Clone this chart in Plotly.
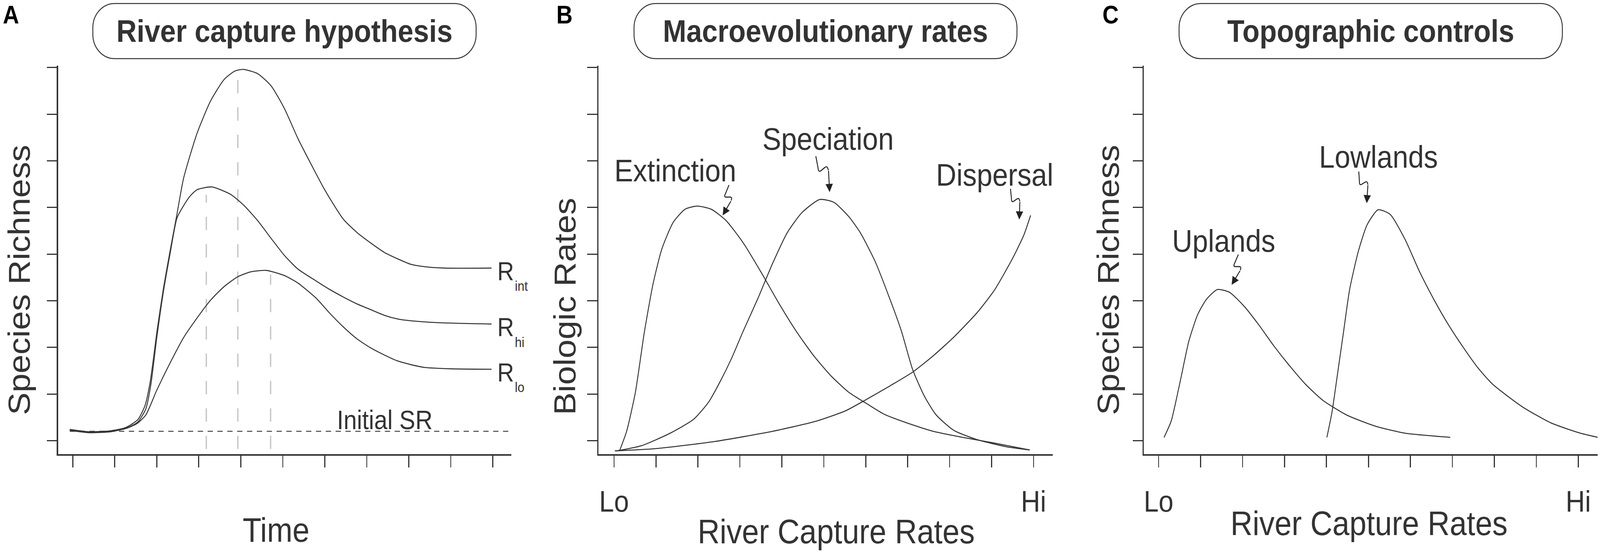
import math
import plotly.graph_objects as go

W, H = 4550, 1420
FONT = "Liberation Sans, Arial, Helvetica, sans-serif"
INK = "#333333"

# ---------------- Panel A : River capture hypothesis ----------------
A_TICKS_X = list(range(0, 11))
A_TICKS_Y = list(range(0, 9))

R_INT_X = [-0.07, 0.4, 0.9, 1.26, 1.55, 1.72, 1.84, 1.92, 2.00, 2.16, 2.32, 2.48, 2.64, 2.96, 3.28, 3.60,
           3.85, 4.05, 4.40, 4.72, 5.04, 5.36, 5.69, 6.01, 6.44, 6.77, 7.09, 7.41, 7.73, 8.05, 8.37, 8.85, 9.97]
R_INT_Y = [0.24, 0.19, 0.21, 0.28, 0.45, 0.75, 1.24, 1.75, 2.31, 3.27, 4.08, 4.85, 5.63, 6.59, 7.28, 7.74,
           7.92, 7.96, 7.87, 7.61, 7.12, 6.48, 5.90, 5.36, 4.75, 4.46, 4.24, 4.04, 3.90, 3.78, 3.73, 3.70, 3.70]

R_HI_X = [-0.07, 0.4, 0.9, 1.26, 1.55, 1.74, 1.86, 2.00, 2.16, 2.32, 2.48, 2.64, 2.80, 2.96, 3.31, 3.76,
          4.08, 4.40, 4.72, 5.04, 5.36, 5.80, 6.12, 6.44, 6.77, 7.09, 7.41, 7.73, 8.05, 8.69, 9.97]
R_HI_Y = [0.23, 0.18, 0.20, 0.26, 0.40, 0.68, 1.20, 2.20, 3.20, 4.02, 4.77, 5.04, 5.25, 5.38, 5.44, 5.28,
          5.04, 4.72, 4.34, 3.97, 3.68, 3.42, 3.24, 3.08, 2.93, 2.81, 2.69, 2.61, 2.57, 2.53, 2.50]

R_LO_X = [-0.07, 0.4, 0.9, 1.26, 1.52, 1.74, 2.00, 2.32, 2.64, 2.96, 3.28, 3.60, 3.92, 4.24, 4.61, 5.04,
          5.36, 5.80, 6.12, 6.44, 6.77, 7.09, 7.41, 7.73, 8.05, 8.37, 9.01, 9.97]
R_LO_Y = [0.22, 0.17, 0.19, 0.26, 0.36, 0.55, 1.08, 1.67, 2.21, 2.63, 3.01, 3.30, 3.51, 3.62, 3.65, 3.54,
          3.38, 3.05, 2.73, 2.44, 2.18, 1.99, 1.84, 1.71, 1.63, 1.57, 1.54, 1.53]

R_LABELS = ["int", "hi", "lo"]

INITIAL_SR = 0.20
INITIAL_SR_X = [-0.07, 10.44]
PEAK_LINE_X = [3.18, 3.93, 4.71]
PEAK_LINE_TOP = [5.27, 7.79, 3.56]
PEAK_LINE_BOTTOM = -0.18

# ---------------- Panel B : Macroevolutionary rates ----------------
B_TICKS_X = list(range(0, 11))
B_TICK_TEXT = ["Lo"] + [""] * 9 + ["Hi"]

EXT_X = [0.13, 0.30, 0.51, 0.72, 0.93, 1.14, 1.41, 1.69, 1.98, 2.32, 2.67, 3.08, 3.50, 3.92, 4.34, 4.76,
         5.17, 5.59, 6.01, 6.43, 6.98, 7.61, 8.31, 9.00, 9.91]
EXT_Y = [-0.22, 0.20, 1.04, 2.31, 3.36, 4.11, 4.68, 4.96, 5.03, 4.96, 4.72, 4.24, 3.62, 2.96, 2.35, 1.82,
         1.39, 1.04, 0.80, 0.57, 0.38, 0.20, 0.07, -0.04, -0.20]

SPEC_X = [0.06, 0.65, 1.34, 1.90, 2.25, 2.52, 2.81, 3.08, 3.43, 3.78, 4.13, 4.48, 4.90, 5.24, 5.59, 5.87,
          6.22, 6.57, 6.85, 7.12, 7.40, 7.68, 8.10, 8.66, 9.35, 9.91]
SPEC_Y = [-0.22, -0.11, 0.16, 0.46, 0.82, 1.25, 1.78, 2.35, 3.05, 3.80, 4.46, 4.89, 5.17, 5.11, 4.81, 4.46,
          3.85, 3.05, 2.35, 1.52, 0.95, 0.55, 0.22, 0.02, -0.13, -0.20]

DISP_X = [0.02, 1.00, 2.39, 3.78, 4.83, 5.52, 6.01, 6.57, 7.12, 7.61, 8.10, 8.66, 9.07, 9.49, 9.77, 9.93]
DISP_Y = [-0.22, -0.17, -0.02, 0.20, 0.42, 0.64, 0.88, 1.17, 1.47, 1.82, 2.22, 2.75, 3.23, 3.89, 4.41, 4.83]

# ---------------- Panel C : Topographic controls ----------------
UP_X = [0.13, 0.30, 0.51, 0.72, 0.93, 1.14, 1.40, 1.69, 2.04, 2.39, 2.74, 3.08, 3.50, 3.92, 4.48, 5.17,
        5.87, 6.95]
UP_Y = [0.07, 0.42, 1.25, 2.13, 2.70, 3.03, 3.24, 3.18, 2.88, 2.48, 2.04, 1.65, 1.21, 0.86, 0.55, 0.31,
        0.16, 0.07]

LOW_X = [4.01, 4.13, 4.27, 4.41, 4.55, 4.76, 4.97, 5.23, 5.52, 5.87, 6.22, 6.57, 6.91, 7.26, 7.61, 7.96,
         8.66, 9.35, 10.05, 10.47]
LOW_Y = [0.07, 0.60, 1.47, 2.35, 3.23, 4.06, 4.63, 4.95, 4.85, 4.32, 3.62, 3.01, 2.48, 2.00, 1.56, 1.21,
         0.73, 0.38, 0.16, 0.07]

# text labels with arrows: (label, text x, text y, arrow tail x, tail y, head x, head y)
B_LABELS = [("Extinction", 1.46, 5.79, 2.74, 5.48, 2.59, 4.83),
            ("Speciation", 5.10, 6.47, 4.81, 6.10, 5.14, 5.33),
            ("Dispersal", 9.07, 5.70, 9.45, 5.40, 9.66, 4.74)]
C_LABELS = [("Lowlands", 5.24, 6.08, 4.77, 5.77, 4.96, 5.09),
            ("Uplands", 1.55, 4.28, 1.90, 3.99, 1.74, 3.34)]

PANEL_TITLES = ["River capture hypothesis", "Macroevolutionary rates", "Topographic controls"]
PANEL_LETTERS = ["A", "B", "C"]
Y_TITLES = ["Species Richness", "Biologic Rates", "Species Richness"]
X_TITLES = ["Time", "River Capture Rates", "River Capture Rates"]

# ---------------- layout geometry (pixels) ----------------
X_DOM_PX = [(165, 1454), (1702, 2994), (3253, 4543)]
Y_DOM_PX = (168, 1162)  # top, bottom
X_RANGES = [[-0.35, 10.44], [-0.37, 10.46], [-0.35, 10.46]]
Y_RANGE = [-0.29, 8.04]
BOX_PX = [(264, 1354), (1803, 2892), (3353, 4443)]
BOX_Y_PX = (9, 150)
LETTER_PX = [(31, 38), (1605, 38), (3158, 38)]
YTITLE_PX = [(53, 716), (1605, 784), (3151, 716)]
XTITLE_PX = [(785, 1355), (2378, 1359), (3893, 1338)]


def px(x):
    return x / W


def py(y):
    return 1 - y / H


fig = go.Figure()


def line(x, y, ax, color=INK, width=2.6, dash=None, shape="spline"):
    fig.add_trace(go.Scatter(
        x=x, y=y, mode="lines", xaxis="x" + ax, yaxis="y" + ax, hoverinfo="skip",
        line=dict(color=color, width=width, dash=dash, shape=shape, smoothing=0.6)))


# Panel A traces
for vx, vt in zip(PEAK_LINE_X, PEAK_LINE_TOP):
    line([vx, vx], [PEAK_LINE_BOTTOM, vt], "", color="#c9c9c9", width=4, dash="34px,36px", shape="linear")
line(INITIAL_SR_X, [INITIAL_SR, INITIAL_SR], "", color="#444444", width=2.6, dash="15px,13px", shape="linear")
line(R_INT_X, R_INT_Y, "")
line(R_HI_X, R_HI_Y, "")
line(R_LO_X, R_LO_Y, "")

# Panel B traces
line(EXT_X, EXT_Y, "2")
line(SPEC_X, SPEC_Y, "2")
line(DISP_X, DISP_Y, "2")

# Panel C traces
line(UP_X, UP_Y, "3")
line(LOW_X, LOW_Y, "3")

axis_common = dict(showgrid=False, zeroline=False, showline=True, linecolor=INK, linewidth=4,
                   ticks="outside", tickcolor=INK, tickwidth=3, fixedrange=True)

layout = dict(
    width=W, height=H, margin=dict(l=0, r=0, t=0, b=0),
    paper_bgcolor="white", plot_bgcolor="white", showlegend=False,
    font=dict(family=FONT, color=INK),
)
for i, suf in enumerate(["", "2", "3"]):
    xd = X_DOM_PX[i]
    layout["xaxis" + suf] = dict(
        axis_common, domain=[px(xd[0]), px(xd[1])], range=X_RANGES[i], anchor="y" + suf,
        tickvals=A_TICKS_X if i == 0 else B_TICKS_X,
        ticktext=[""] * 11 if i == 0 else B_TICK_TEXT,
        ticklen=30, ticklabelstandoff=22,
        tickfont=dict(family=FONT, size=76, color=INK))
    layout["yaxis" + suf] = dict(
        axis_common, domain=[py(Y_DOM_PX[1]), py(Y_DOM_PX[0])], range=Y_RANGE, anchor="x" + suf,
        tickvals=A_TICKS_Y, showticklabels=False, ticklen=28)
fig.update_layout(**layout)

annotations = []
shapes = []

# rounded title boxes
K = 0.5523


def rounded_box(x0, y0, x1, y1, r):
    k = K * r
    pts = [
        ("M", [(x0 + r, y0)]),
        ("L", [(x1 - r, y0)]),
        ("C", [(x1 - r + k, y0), (x1, y0 + r - k), (x1, y0 + r)]),
        ("L", [(x1, y1 - r)]),
        ("C", [(x1, y1 - r + k), (x1 - r + k, y1), (x1 - r, y1)]),
        ("L", [(x0 + r, y1)]),
        ("C", [(x0 + r - k, y1), (x0, y1 - r + k), (x0, y1 - r)]),
        ("L", [(x0, y0 + r)]),
        ("C", [(x0, y0 + r - k), (x0 + r - k, y0), (x0 + r, y0)]),
    ]
    s = ""
    for cmd, ps in pts:
        s += cmd + " " + " ".join(f"{px(a):.6f},{py(b):.6f}" for a, b in ps) + " "
    return s + "Z"


for i in range(3):
    bx0, bx1 = BOX_PX[i]
    shapes.append(dict(type="path", xref="paper", yref="paper",
                       path=rounded_box(bx0, BOX_Y_PX[0], bx1, BOX_Y_PX[1], 62),
                       line=dict(color=INK, width=2.6), fillcolor="white", layer="above"))
    annotations.append(dict(xref="paper", yref="paper", x=px((bx0 + bx1) / 2),
                            y=py((BOX_Y_PX[0] + BOX_Y_PX[1]) / 2), text=PANEL_TITLES[i],
                            showarrow=False, xanchor="center", yanchor="middle",
                            font=dict(family=FONT, size=80, color=INK, weight=700)))
    lx, ly = LETTER_PX[i]
    annotations.append(dict(xref="paper", yref="paper", x=px(lx), y=py(ly), text=PANEL_LETTERS[i],
                            showarrow=False, xanchor="center", yanchor="middle",
                            font=dict(family=FONT, size=64, color="#000000", weight=700)))
    tx, ty = YTITLE_PX[i]
    annotations.append(dict(xref="paper", yref="paper", x=px(tx), y=py(ty), text=Y_TITLES[i],
                            showarrow=False, textangle=-90, xanchor="center", yanchor="middle",
                            font=dict(family=FONT, size=87, color=INK)))
    tx, ty = XTITLE_PX[i]
    annotations.append(dict(xref="paper", yref="paper", x=px(tx), y=py(ty), text=X_TITLES[i],
                            showarrow=False, xanchor="center", yanchor="middle",
                            font=dict(family=FONT, size=87, color=INK)))

# Panel A labels
annotations.append(dict(xref="x", yref="y", x=7.43, y=INITIAL_SR, text="Initial SR", showarrow=False,
                        xanchor="center", yanchor="bottom", yshift=-10,
                        font=dict(family=FONT, size=68, color=INK)))
for xs, ys, lab in [(R_INT_X, R_INT_Y, R_LABELS[0]), (R_HI_X, R_HI_Y, R_LABELS[1]),
                    (R_LO_X, R_LO_Y, R_LABELS[2])]:
    annotations.append(dict(xref="x", yref="y", x=xs[-1], y=ys[-1], text="R", showarrow=False,
                            xanchor="left", yanchor="middle", xshift=14, yshift=-8,
                            font=dict(family=FONT, size=66, color=INK)))
    annotations.append(dict(xref="x", yref="y", x=xs[-1], y=ys[-1], text=lab, showarrow=False,
                            xanchor="left", yanchor="middle", xshift=64, yshift=-46,
                            font=dict(family=FONT, size=35, color=INK)))


def squiggle_arrow(tx, ty, hx, hy, suf):
    """Lightning-shaped arrow shaft from (tx,ty) ending with a straight arrowhead at (hx,hy)."""
    vx, vy = hx - tx, -(hy - ty)  # screen-like orientation (y down)
    L = math.hypot(vx, vy)
    ux, uy = vx / L, vy / L
    nx, ny = uy, -ux

    def pt(t, p):
        sx = tx + t * vx + p * L * nx
        sy = -ty + t * vy + p * L * ny
        return f"{sx:.4f},{-sy:.4f}"

    path = ("M " + pt(0, 0) + " L " + pt(0.30, -0.06) + " Q " + pt(0.42, -0.10) + " " + pt(0.40, -0.01)
            + " L " + pt(0.37, 0.11) + " Q " + pt(0.35, 0.19) + " " + pt(0.41, 0.19)
            + " L " + pt(0.47, 0.19))
    shapes.append(dict(type="path", xref="x" + suf, yref="y" + suf, path=path,
                       line=dict(color="#222222", width=2.6)))
    ex = tx + 0.47 * vx + 0.19 * L * nx
    ey = -(-ty + 0.47 * vy + 0.19 * L * ny)
    annotations.append(dict(xref="x" + suf, yref="y" + suf, x=hx, y=hy, ax=ex, ay=ey,
                            axref="x" + suf, ayref="y" + suf, text="", showarrow=True,
                            arrowhead=2, arrowsize=1.6, arrowwidth=2.6, arrowcolor="#222222",
                            standoff=0, startstandoff=0))


# Panel B / C labels with arrows
for labels, suf in [(B_LABELS, "2"), (C_LABELS, "3")]:
    for text, tx, ty, ax0, ay0, hx, hy in labels:
        annotations.append(dict(xref="x" + suf, yref="y" + suf, x=tx, y=ty, text=text, showarrow=False,
                                xanchor="center", yanchor="middle",
                                font=dict(family=FONT, size=80, color=INK)))
        squiggle_arrow(ax0, ay0, hx, hy, suf)

fig.update_layout(annotations=annotations, shapes=shapes)

# Fit the 4550x1420 figure into whatever viewport the browser really has.
POST = ("var gd=document.getElementById('{plot_id}');"
        "document.documentElement.style.margin='0';document.body.style.margin='0';"
        "document.documentElement.style.overflow='hidden';document.body.style.overflow='hidden';"
        "var sx=window.innerWidth/%d, sy=window.innerHeight/%d;"
        "gd.style.transformOrigin='0 0';gd.style.transform='scale('+sx+','+sy+')';" % (W, H))
fig.write_html("out.html", config={"displayModeBar": False}, post_script=POST)
